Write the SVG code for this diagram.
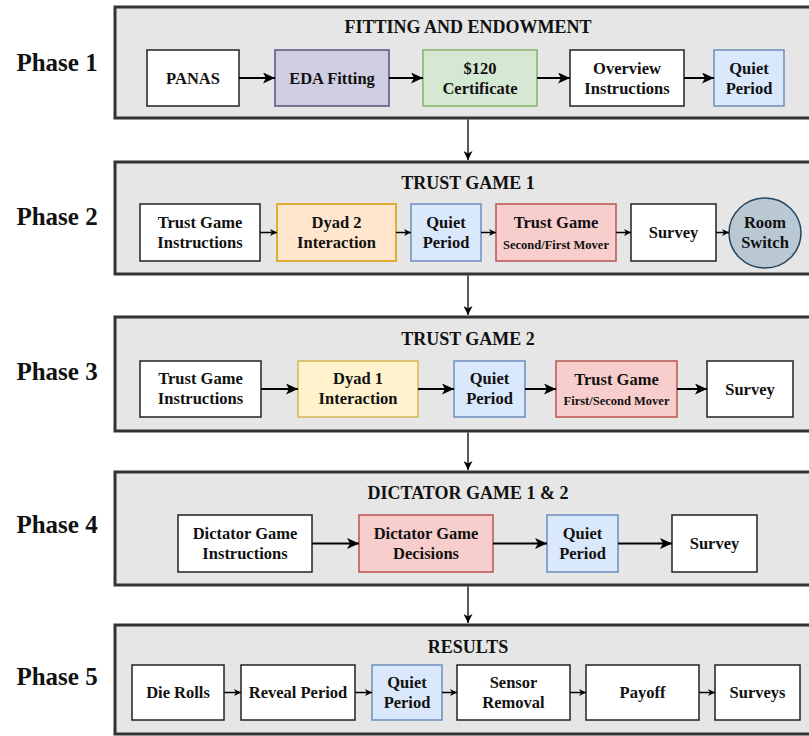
<svg xmlns="http://www.w3.org/2000/svg" width="809" height="736" viewBox="0 0 809 736">
  <style>
    text { font-family: "Liberation Serif", "Times New Roman", serif; font-weight: bold; fill: #111; text-anchor: middle; }
    .phase { font-size: 25px; }
    .title { font-size: 18px; }
    .lbl { font-size: 16.5px; }
    .sub { font-size: 12.5px; }
    .panel { fill: #e6e6e6; stroke: #333; stroke-width: 3; }
    .white { fill: #ffffff; stroke: #222; stroke-width: 1.5; }
    .purple { fill: #d0cee2; stroke: #56517e; stroke-width: 1.5; }
    .green { fill: #d5e8d4; stroke: #82b366; stroke-width: 1.5; }
    .blue { fill: #dae8fc; stroke: #6c8ebf; stroke-width: 1.5; }
    .orange { fill: #ffe6cc; stroke: #d79b00; stroke-width: 1.5; }
    .yellow { fill: #fff2cc; stroke: #d6b656; stroke-width: 1.5; }
    .red { fill: #f8cecc; stroke: #b85450; stroke-width: 1.5; }
    .slate { fill: #bac8d3; stroke: #23445d; stroke-width: 1.5; }
    .big { stroke: #000; stroke-width: 2; fill: none; marker-end: url(#headBig); }
    .small { stroke: #000; stroke-width: 1.5; fill: none; marker-end: url(#headSmall); }
    .down { stroke: #000; stroke-width: 1.3; fill: none; marker-end: url(#headDown); }
  </style>
  <defs>
    <marker id="headBig" markerUnits="userSpaceOnUse" markerWidth="12" markerHeight="11" refX="12" refY="5.5" orient="auto">
      <path d="M0,0 L12,5.5 L0,11 L3,5.5 z" fill="#000"/>
    </marker>
    <marker id="headSmall" markerUnits="userSpaceOnUse" markerWidth="7" markerHeight="7" refX="7" refY="3.5" orient="auto">
      <path d="M0,0 L7,3.5 L0,7 L2,3.5 z" fill="#000"/>
    </marker>
    <marker id="headDown" markerUnits="userSpaceOnUse" markerWidth="9" markerHeight="9" refX="9" refY="4.5" orient="auto">
      <path d="M0,0 L9,4.5 L0,9 L2.5,4.5 z" fill="#000"/>
    </marker>
  </defs>

  <!-- Phase panels (open on the right edge) -->
  <g id="panels">
    <rect class="panel" x="115" y="7" width="710" height="111"/>
    <rect class="panel" x="115" y="162" width="710" height="112"/>
    <rect class="panel" x="115" y="317" width="710" height="114"/>
    <rect class="panel" x="115" y="472" width="710" height="113"/>
    <rect class="panel" x="115" y="625" width="710" height="109"/>
  </g>

  <!-- Phase labels and panel titles -->
  <g id="labels">
    <text class="phase" x="57" y="71">Phase 1</text>
    <text class="phase" x="57" y="225">Phase 2</text>
    <text class="phase" x="57" y="380">Phase 3</text>
    <text class="phase" x="57" y="533">Phase 4</text>
    <text class="phase" x="57" y="685">Phase 5</text>
    <text class="title" x="468" y="33">FITTING AND ENDOWMENT</text>
    <text class="title" x="468" y="189">TRUST GAME 1</text>
    <text class="title" x="468" y="345">TRUST GAME 2</text>
    <text class="title" x="468" y="499">DICTATOR GAME 1 &amp; 2</text>
    <text class="title" x="468" y="653">RESULTS</text>
  </g>

  <!-- Phase 1 -->
  <g id="p1-panas"><rect class="white" x="147" y="50" width="92" height="56"/><text class="lbl" x="193" y="83.5">PANAS</text></g>
  <g id="p1-eda"><rect class="purple" x="275" y="50" width="114" height="56"/><text class="lbl" x="332" y="83.5">EDA Fitting</text></g>
  <g id="p1-cert"><rect class="green" x="423" y="50" width="114" height="56"/><text class="lbl" x="480" y="73.5">$120</text><text class="lbl" x="480" y="93.5">Certificate</text></g>
  <g id="p1-overview"><rect class="white" x="570" y="50" width="114" height="56"/><text class="lbl" x="627" y="73.5">Overview</text><text class="lbl" x="627" y="93.5">Instructions</text></g>
  <g id="p1-quiet"><rect class="blue" x="714" y="50" width="70" height="56"/><text class="lbl" x="749" y="73.5">Quiet</text><text class="lbl" x="749" y="93.5">Period</text></g>

  <!-- Phase 2 -->
  <g id="p2-instr"><rect class="white" x="140" y="204" width="120" height="57"/><text class="lbl" x="200" y="227.5">Trust Game</text><text class="lbl" x="200" y="247.5">Instructions</text></g>
  <g id="p2-dyad"><rect class="orange" x="277" y="204" width="119" height="57"/><text class="lbl" x="336.5" y="227.5">Dyad 2</text><text class="lbl" x="336.5" y="247.5">Interaction</text></g>
  <g id="p2-quiet"><rect class="blue" x="411" y="204" width="70" height="57"/><text class="lbl" x="446" y="227.5">Quiet</text><text class="lbl" x="446" y="247.5">Period</text></g>
  <g id="p2-trust"><rect class="red" x="496" y="204" width="120" height="57"/><text class="lbl" x="556" y="228">Trust Game</text><text class="sub" x="556" y="249">Second/First Mover</text></g>
  <g id="p2-survey"><rect class="white" x="631" y="204" width="85" height="57"/><text class="lbl" x="673.5" y="238">Survey</text></g>
  <g id="p2-room"><ellipse class="slate" cx="765" cy="233" rx="36" ry="35"/><text class="lbl" x="765" y="227.5">Room</text><text class="lbl" x="765" y="248">Switch</text></g>

  <!-- Phase 3 -->
  <g id="p3-instr"><rect class="white" x="140" y="361" width="121" height="56"/><text class="lbl" x="200.5" y="384">Trust Game</text><text class="lbl" x="200.5" y="404">Instructions</text></g>
  <g id="p3-dyad"><rect class="yellow" x="298" y="361" width="120" height="56"/><text class="lbl" x="358" y="384">Dyad 1</text><text class="lbl" x="358" y="404">Interaction</text></g>
  <g id="p3-quiet"><rect class="blue" x="454" y="361" width="71" height="56"/><text class="lbl" x="489.5" y="384">Quiet</text><text class="lbl" x="489.5" y="404">Period</text></g>
  <g id="p3-trust"><rect class="red" x="556" y="361" width="121" height="56"/><text class="lbl" x="616.5" y="384.5">Trust Game</text><text class="sub" x="616.5" y="405">First/Second Mover</text></g>
  <g id="p3-survey"><rect class="white" x="707" y="361" width="86" height="56"/><text class="lbl" x="750" y="394.5">Survey</text></g>

  <!-- Phase 4 -->
  <g id="p4-instr"><rect class="white" x="178" y="515" width="134" height="57"/><text class="lbl" x="245" y="538.5">Dictator Game</text><text class="lbl" x="245" y="558.5">Instructions</text></g>
  <g id="p4-decisions"><rect class="red" x="359" y="515" width="134" height="57"/><text class="lbl" x="426" y="538.5">Dictator Game</text><text class="lbl" x="426" y="558.5">Decisions</text></g>
  <g id="p4-quiet"><rect class="blue" x="547" y="515" width="71" height="57"/><text class="lbl" x="582.5" y="538.5">Quiet</text><text class="lbl" x="582.5" y="558.5">Period</text></g>
  <g id="p4-survey"><rect class="white" x="672" y="515" width="85" height="57"/><text class="lbl" x="714.5" y="549">Survey</text></g>

  <!-- Phase 5 -->
  <g id="p5-die"><rect class="white" x="132" y="665" width="92" height="55"/><text class="lbl" x="178" y="698">Die Rolls</text></g>
  <g id="p5-reveal"><rect class="white" x="241" y="665" width="114" height="55"/><text class="lbl" x="298" y="698">Reveal Period</text></g>
  <g id="p5-quiet"><rect class="blue" x="372" y="665" width="70" height="55"/><text class="lbl" x="407" y="688">Quiet</text><text class="lbl" x="407" y="708">Period</text></g>
  <g id="p5-sensor"><rect class="white" x="457" y="665" width="113" height="55"/><text class="lbl" x="513.5" y="688">Sensor</text><text class="lbl" x="513.5" y="708">Removal</text></g>
  <g id="p5-payoff"><rect class="white" x="586" y="665" width="113" height="55"/><text class="lbl" x="642.5" y="698">Payoff</text></g>
  <g id="p5-surveys"><rect class="white" x="715" y="665" width="85" height="55"/><text class="lbl" x="757.5" y="698">Surveys</text></g>

  <!-- Connectors -->
  <g id="connectors">
    <line class="big" x1="239" y1="78" x2="275" y2="78"/>
    <line class="big" x1="389" y1="78" x2="423" y2="78"/>
    <line class="big" x1="537" y1="78" x2="570" y2="78"/>
    <line class="big" x1="684" y1="78" x2="714" y2="78"/>

    <line class="small" x1="260" y1="232.5" x2="277" y2="232.5"/>
    <line class="small" x1="396" y1="232.5" x2="411" y2="232.5"/>
    <line class="small" x1="481" y1="232.5" x2="496" y2="232.5"/>
    <line class="small" x1="616" y1="232.5" x2="631" y2="232.5"/>
    <line class="small" x1="716" y1="232.5" x2="729" y2="232.5"/>

    <line class="big" x1="261" y1="389" x2="298" y2="389"/>
    <line class="big" x1="418" y1="389" x2="454" y2="389"/>
    <line class="big" x1="525" y1="389" x2="556" y2="389"/>
    <line class="big" x1="677" y1="389" x2="707" y2="389"/>

    <line class="big" x1="312" y1="543.5" x2="359" y2="543.5"/>
    <line class="big" x1="493" y1="543.5" x2="547" y2="543.5"/>
    <line class="big" x1="618" y1="543.5" x2="672" y2="543.5"/>

    <line class="small" x1="224" y1="692.5" x2="241" y2="692.5"/>
    <line class="small" x1="355" y1="692.5" x2="372" y2="692.5"/>
    <line class="small" x1="442" y1="692.5" x2="457" y2="692.5"/>
    <line class="small" x1="570" y1="692.5" x2="586" y2="692.5"/>
    <line class="small" x1="699" y1="692.5" x2="715" y2="692.5"/>

    <line class="down" x1="468" y1="119.5" x2="468" y2="160"/>
    <line class="down" x1="468" y1="275.5" x2="468" y2="315"/>
    <line class="down" x1="468" y1="432.5" x2="468" y2="470"/>
    <line class="down" x1="468" y1="586.5" x2="468" y2="623"/>
  </g>
</svg>
